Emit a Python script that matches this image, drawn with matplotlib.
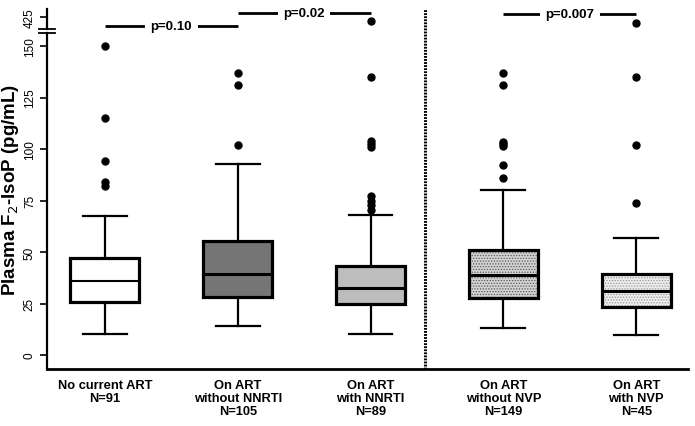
import numpy as np
import matplotlib.pyplot as plt
from matplotlib.patches import Rectangle

plt.rcParams['font.family'] = ['Liberation Sans', 'DejaVu Sans']
plt.rcParams['hatch.linewidth'] = 0.6

groups = ['No current ART\nN=91', 'On ART\nwithout NNRTI\nN=105', 'On ART\nwith NNRTI\nN=89',
          'On ART\nwithout NVP\nN=149', 'On ART\nwith NVP\nN=45']
whislo = [10.0, 14.2, 10.0, 13.0, 9.7]
q1 = [25.6, 28.2, 24.8, 27.8, 23.3]
med = [35.9, 39.3, 32.4, 38.7, 30.9]
q3 = [47.2, 55.3, 43.4, 51.1, 39.5]
whishi = [67.3, 92.6, 68.0, 80.3, 56.6]
fliers = [[150, 115, 94, 84, 82],
          [137, 131, 102],
          [405, 135, 104, 102.5, 101, 77, 75, 73, 70.5],
          [137, 131, 103.5, 102.5, 101.5, 92.5, 86],
          [397, 135, 102, 74]]
faces = ['white', '#757575', '#bdbdbd', '#d2d2d2', '#ececec']
hatch_col = [None, None, None, '#5a5a5a', '#999999']
pvals = [(1, 2, 'p=0.10', 160.0), (2, 3, 'p=0.02', 166.0), (4, 5, 'p=0.007', 165.4)]
yticks = [0, 25, 50, 75, 100, 125, 150, 425]


def to_axis(v):
    # broken y axis: linear up to 155, then a compressed piece around 425
    return v if v <= 155 else 164 + (v - 425) * 0.1


fig = plt.figure(figsize=(6.95, 4.27), dpi=100)
ax = fig.add_axes([0.0676, 0.1335, 0.9224, 0.843])

pos = np.arange(1, len(groups) + 1)
stats = []
for i in range(len(groups)):
    stats.append(dict(med=med[i], q1=q1[i], q3=q3[i], whislo=whislo[i], whishi=whishi[i],
                      fliers=[to_axis(v) for v in fliers[i]]))

bp = ax.bxp(stats, positions=pos, widths=0.52, capwidths=0.33, patch_artist=True,
            boxprops=dict(linewidth=2.3, edgecolor='black'),
            whiskerprops=dict(linewidth=1.6, color='black'),
            capprops=dict(linewidth=1.6, color='black'),
            medianprops=dict(linewidth=2.2, color='black'),
            flierprops=dict(marker='o', markerfacecolor='black', markeredgecolor='black', markersize=5))
for i, box in enumerate(bp['boxes']):
    box.set_zorder(3)
    if hatch_col[i] is None:
        box.set_facecolor(faces[i])
    else:
        box.set_facecolor('none')
        ax.add_patch(Rectangle((pos[i] - 0.26, q1[i]), 0.52, q3[i] - q1[i], facecolor=faces[i],
                               edgecolor=hatch_col[i], hatch='......', linewidth=0, zorder=2))
bp['medians'][0].set_linewidth(1.5)
for m in bp['medians']:
    m.set_zorder(4)

# separator between the two comparisons
ax.axvline(3.41, color='black', linestyle=(0, (0.6, 0.4)), linewidth=2.2)

# p-value brackets
for a, b, lab, y in pvals:
    ax.plot([a, b], [y, y], color='black', linewidth=2, solid_capstyle='butt')
    ax.text((a + b) / 2, y, lab, ha='center', va='center', fontsize=9.5, fontweight='bold',
            bbox=dict(facecolor='white', edgecolor='none', pad=4))

ax.set_xlim(0.564, 5.39)
ax.set_ylim(-6.8, 168)
ax.set_xticks(pos)
ax.set_xticklabels(groups, fontsize=9.3, fontweight='bold', linespacing=1.15)
ax.tick_params(axis='x', length=0, pad=7)
ax.set_yticks([to_axis(v) for v in yticks])
ax.set_yticklabels([str(v) for v in yticks], rotation=90, va='center', fontsize=8.5)
ax.tick_params(axis='y', length=5, width=1.2, pad=3)
ax.set_ylabel('Plasma F$_2$-IsoP (pg/mL)', fontsize=13.5, fontweight='bold', labelpad=2)

for s in ['top', 'right', 'left']:
    ax.spines[s].set_visible(False)
ax.spines['bottom'].set_linewidth(2)

# left spine with break marks
tr = ax.get_yaxis_transform()
ax.plot([0, 0], [-6.8, 156.6], color='black', linewidth=1.6, transform=tr, clip_on=False)
ax.plot([0, 0], [158.1, 168], color='black', linewidth=1.6, transform=tr, clip_on=False)
for yb in [156.6, 158.1]:
    ax.plot([-0.012, 0.012], [yb, yb], color='black', linewidth=1.3, transform=tr, clip_on=False)

plt.savefig('out.png', dpi=100)
